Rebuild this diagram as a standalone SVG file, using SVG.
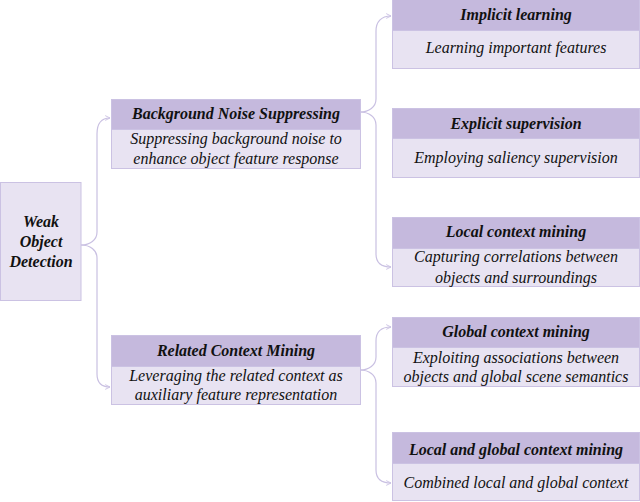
<svg xmlns="http://www.w3.org/2000/svg" width="640" height="502" viewBox="0 0 640 502">
<defs>
<marker id="ah" viewBox="0 0 10 10" refX="9" refY="5" markerWidth="6" markerHeight="6" orient="auto" markerUnits="userSpaceOnUse">
<path d="M1,1 L9,5 L1,9" fill="none" stroke="#c9c0e2" stroke-width="1.5"/>
</marker>
</defs>
<rect width="640" height="502" fill="#ffffff"/>
<g id="connectors" fill="none" stroke="#c9c0e2" stroke-width="1.2">
<path d="M81,245 C90,245 97,240 97,232 L97,134 C97,124 101,118 110,118" marker-end="url(#ah)"/>
<path d="M81,245 C90,245 97,250 97,258 L97,374 C97,382 101,387 110,387" marker-end="url(#ah)"/>
<path d="M360,112 C369,112 376,107 376,99 L376,31 C376,22 381,16 391,16" marker-end="url(#ah)"/>
<path d="M360,112 C369,112 376,117 376,125 L376,254 C376,262 381,267 391,267" marker-end="url(#ah)"/>
<path d="M360,370 C369,370 376,365 376,357 L376,341 C376,332 381,327 391,327" marker-end="url(#ah)"/>
<path d="M360,370 C369,370 376,375 376,383 L376,470 C376,478 381,483 391,483" marker-end="url(#ah)"/>
</g>
<g id="root">
<rect x="0.5" y="182.5" width="80.5" height="118" fill="#e8e3f2" stroke="#cbc2e3"/>
<text x="41" y="227" font-family="Liberation Serif" font-style="italic" font-weight="bold" font-size="16" text-anchor="middle" fill="#111111">Weak</text>
<text x="41" y="247" font-family="Liberation Serif" font-style="italic" font-weight="bold" font-size="16" text-anchor="middle" fill="#111111">Object</text>
<text x="41" y="267" font-family="Liberation Serif" font-style="italic" font-weight="bold" font-size="16" text-anchor="middle" fill="#111111">Detection</text>
</g>
<g id="bns">
<rect x="111.5" y="99.5" width="249" height="30" fill="#c5b9dd" stroke="#cbc2e3"/>
<rect x="111.5" y="129.5" width="249" height="39" fill="#e8e3f2" stroke="#cbc2e3"/>
<text x="236" y="119" font-family="Liberation Serif" font-style="italic" font-weight="bold" font-size="16" text-anchor="middle" fill="#111111">Background Noise Suppressing</text>
<text x="236" y="144" font-family="Liberation Serif" font-style="italic" font-size="16" text-anchor="middle" fill="#111111">Suppressing background noise to</text>
<text x="236" y="164" font-family="Liberation Serif" font-style="italic" font-size="16" text-anchor="middle" fill="#111111">enhance object feature response</text>
</g>
<g id="rcm">
<rect x="111.5" y="335.5" width="249" height="31" fill="#c5b9dd" stroke="#cbc2e3"/>
<rect x="111.5" y="366.5" width="249" height="38" fill="#e8e3f2" stroke="#cbc2e3"/>
<text x="236" y="356" font-family="Liberation Serif" font-style="italic" font-weight="bold" font-size="16" text-anchor="middle" fill="#111111">Related Context Mining</text>
<text x="236" y="381" font-family="Liberation Serif" font-style="italic" font-size="16" text-anchor="middle" fill="#111111">Leveraging the related context as</text>
<text x="236" y="400" font-family="Liberation Serif" font-style="italic" font-size="16" text-anchor="middle" fill="#111111">auxiliary feature representation</text>
</g>
<g id="implicit">
<rect x="392.5" y="-0.5" width="247" height="31" fill="#c5b9dd" stroke="#cbc2e3"/>
<rect x="392.5" y="30.5" width="247" height="38" fill="#e8e3f2" stroke="#cbc2e3"/>
<text x="516" y="20" font-family="Liberation Serif" font-style="italic" font-weight="bold" font-size="16" text-anchor="middle" fill="#111111">Implicit learning</text>
<text x="516" y="53" font-family="Liberation Serif" font-style="italic" font-size="16" text-anchor="middle" fill="#111111">Learning important features</text>
</g>
<g id="explicit">
<rect x="392.5" y="108.5" width="247" height="30" fill="#c5b9dd" stroke="#cbc2e3"/>
<rect x="392.5" y="138.5" width="247" height="39" fill="#e8e3f2" stroke="#cbc2e3"/>
<text x="516" y="129" font-family="Liberation Serif" font-style="italic" font-weight="bold" font-size="16" text-anchor="middle" fill="#111111">Explicit supervision</text>
<text x="516" y="163" font-family="Liberation Serif" font-style="italic" font-size="16" text-anchor="middle" fill="#111111">Employing saliency supervision</text>
</g>
<g id="local">
<rect x="392.5" y="217.5" width="247" height="31" fill="#c5b9dd" stroke="#cbc2e3"/>
<rect x="392.5" y="248.5" width="247" height="38" fill="#e8e3f2" stroke="#cbc2e3"/>
<text x="516" y="237" font-family="Liberation Serif" font-style="italic" font-weight="bold" font-size="16" text-anchor="middle" fill="#111111">Local context mining</text>
<text x="516" y="262" font-family="Liberation Serif" font-style="italic" font-size="16" text-anchor="middle" fill="#111111">Capturing correlations between</text>
<text x="516" y="283" font-family="Liberation Serif" font-style="italic" font-size="16" text-anchor="middle" fill="#111111">objects and surroundings</text>
</g>
<g id="global">
<rect x="392.5" y="317.5" width="247" height="30" fill="#c5b9dd" stroke="#cbc2e3"/>
<rect x="392.5" y="347.5" width="247" height="39" fill="#e8e3f2" stroke="#cbc2e3"/>
<text x="516" y="337" font-family="Liberation Serif" font-style="italic" font-weight="bold" font-size="16" text-anchor="middle" fill="#111111">Global context mining</text>
<text x="516" y="363" font-family="Liberation Serif" font-style="italic" font-size="16" text-anchor="middle" fill="#111111">Exploiting associations between</text>
<text x="516" y="382" font-family="Liberation Serif" font-style="italic" font-size="16" text-anchor="middle" fill="#111111">objects and global scene semantics</text>
</g>
<g id="localglobal">
<rect x="392.5" y="432.5" width="247" height="31" fill="#c5b9dd" stroke="#cbc2e3"/>
<rect x="392.5" y="463.5" width="247" height="37" fill="#e8e3f2" stroke="#cbc2e3"/>
<text x="516" y="455" font-family="Liberation Serif" font-style="italic" font-weight="bold" font-size="16" text-anchor="middle" fill="#111111">Local and global context mining</text>
<text x="516" y="488" font-family="Liberation Serif" font-style="italic" font-size="16" text-anchor="middle" fill="#111111">Combined local and global context</text>
</g>
</svg>
